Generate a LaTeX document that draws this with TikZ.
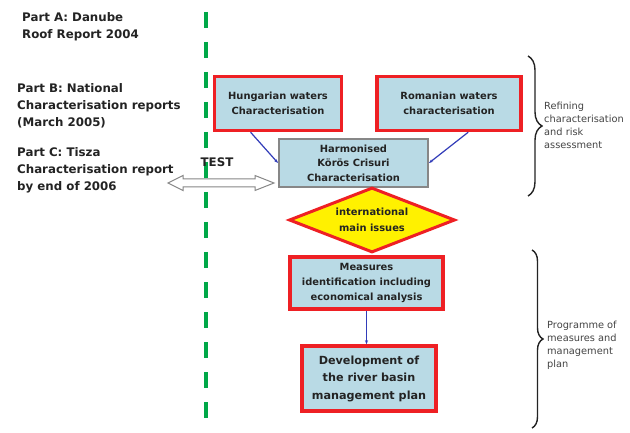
\documentclass[tikz,border=0pt]{standalone}
\usepackage{fontspec}
\setmainfont{DejaVu Sans}
\usetikzlibrary{shapes.geometric,arrows.meta,decorations.pathreplacing,calc}
\definecolor{boxblue}{RGB}{185,218,229}
\definecolor{boxred}{RGB}{238,32,36}
\definecolor{dgreen}{RGB}{0,168,72}
\definecolor{diayellow}{RGB}{255,241,0}
\definecolor{lineblue}{RGB}{50,60,185}
\definecolor{txt}{RGB}{35,35,35}
\definecolor{graybd}{RGB}{135,135,135}
\begin{document}
\begin{tikzpicture}[x=1pt,y=-1pt,
  redbox/.style={rectangle,draw=boxred,line width=3.5pt,fill=boxblue,align=center,inner sep=0pt,
    text=txt,font=\bfseries\fontsize{9.9}{15}\selectfont},
  graybox/.style={rectangle,draw=graybd,line width=2pt,fill=boxblue,align=center,inner sep=0pt,
    text=txt,font=\bfseries\fontsize{9.9}{14.5}\selectfont},
  lefttext/.style={anchor=west,align=left,text=txt,inner sep=0pt,font=\bfseries\fontsize{11.8}{17}\selectfont},
  righttext/.style={anchor=west,align=left,text=txt!85,inner sep=0pt,font=\fontsize{9.8}{13}\selectfont},
  conn/.style={draw=lineblue,line width=1.2pt,-{Stealth[length=4pt,width=3pt]}},
  bracestyle/.style={draw=txt,line width=1.4pt,decorate,decoration={brace,amplitude=#1}}
]
\useasboundingbox (0,0) rectangle (630,433);
\fill[white] (0,0) rectangle (630,433);

% green dashed separator
\coordinate (gtop) at (206,12);
\coordinate (gbot) at (206,428);
\draw[dgreen,line width=4pt,dash pattern=on 16pt off 14pt] (gtop) -- (gbot);

% left texts
\node[lefttext] (pa) at (22,26.5) {Part A: Danube\\Roof Report 2004};
\node[lefttext] (pb) at (17,105.5) {Part B: National\\Characterisation reports\\(March 2005)};
\node[lefttext] (pc) at (17,170.5) {Part C: Tisza\\Characterisation report\\by end of 2006};

% hollow double arrow
\draw[draw=graybd,fill=white,line width=1pt]
  (168,183) -- (183,175.5) -- (183,179) -- (255,179) -- (255,175.5) -- (274,183)
  -- (255,190.5) -- (255,187) -- (183,187) -- (183,190.5) -- cycle;
\node[text=txt,font=\bfseries\fontsize{11.8}{13}\selectfont,inner sep=0pt] (test) at (217,162) {TEST};

% boxes
\node[redbox,minimum width=127pt,minimum height=54pt] (hu) at (278,103.5) {Hungarian waters\\Characterisation};
\node[redbox,minimum width=144pt,minimum height=54pt] (ro) at (449,103.5) {Romanian waters\\characterisation};
\node[graybox,minimum width=149pt,minimum height=48pt] (ha) at (353.5,163) {Harmonised\\Körös Crisuri\\Characterisation};
\node[diamond,aspect=2.6,draw=boxred,line width=3pt,fill=diayellow,minimum width=166pt,minimum height=65pt,
  inner sep=0pt,align=center,text=txt,font=\bfseries\fontsize{9.9}{15.5}\selectfont] (di) at (372,220) {international\\main issues};
\node[redbox,minimum width=153pt,minimum height=52pt] (me) at (366.5,283) {Measures\\identification including\\economical analysis};
\node[redbox,minimum width=134pt,minimum height=65pt,font=\bfseries\fontsize{11.2}{17.5}\selectfont] (de) at (369,378.5) {Development of\\the river basin\\management plan};

% connectors
\draw[conn] ($(hu.south west)!0.29!(hu.south east)$) -- (ha.west);
\draw[conn] ($(ro.south west)!0.63!(ro.south east)$) -- (ha.east);
\draw[conn] (me.south) -- (me.south |- de.north);

% braces
\coordinate (b1t) at (528,56);
\coordinate (b1b) at (528,196);
\draw[bracestyle=14pt] (b1t) -- (b1b);
\node[righttext] (r1) at (544,125) {Refining\\characterisation\\and risk\\assessment};
\coordinate (b2t) at (532,250);
\coordinate (b2b) at (532,428);
\draw[bracestyle=11pt] (b2t) -- (b2b);
\node[righttext] (r2) at (547,345) {Programme of\\measures and\\management\\plan};
\end{tikzpicture}
\end{document}
